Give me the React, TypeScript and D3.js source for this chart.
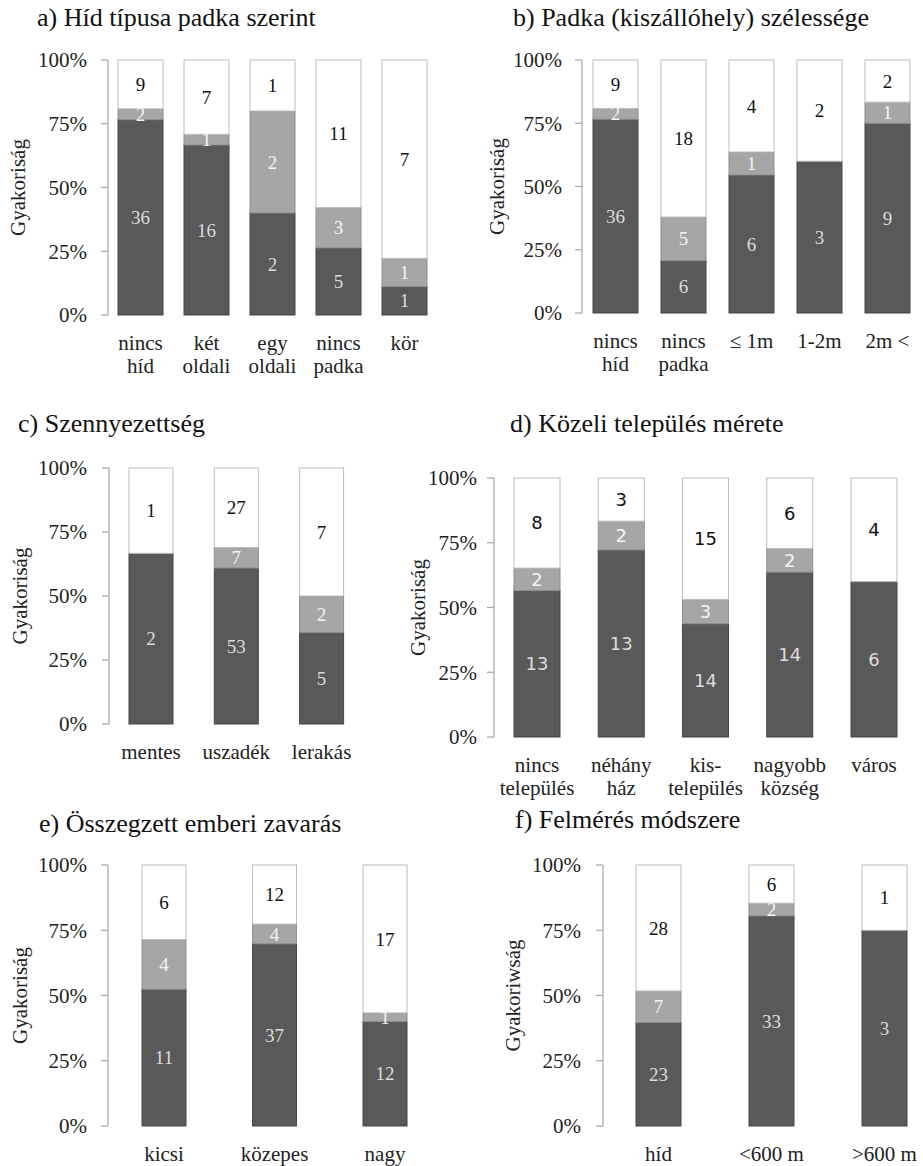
import React, { useEffect, useRef } from "react";
import * as d3 from "d3";

// ---- data ----
const catsA = [["nincs", "híd"], ["két", "oldali"], ["egy", "oldali"], ["nincs", "padka"], ["kör"]];
const darkA = [36, 16, 2, 5, 1];
const grayA = [2, 1, 2, 3, 1];
const whiteA = [9, 7, 1, 11, 7];

const catsB = [["nincs", "híd"], ["nincs", "padka"], ["≤ 1m"], ["1-2m"], ["2m <"]];
const darkB = [36, 6, 6, 3, 9];
const grayB = [2, 5, 1, 0, 1];
const whiteB = [9, 18, 4, 2, 2];

const catsC = [["mentes"], ["uszadék"], ["lerakás"]];
const darkC = [2, 53, 5];
const grayC = [0, 7, 2];
const whiteC = [1, 27, 7];

const catsD = [["nincs", "település"], ["néhány", "ház"], ["kis-", "település"], ["nagyobb", "község"], ["város"]];
const darkD = [13, 13, 14, 14, 6];
const grayD = [2, 2, 3, 2, 0];
const whiteD = [8, 3, 15, 6, 4];

const catsE = [["kicsi"], ["közepes"], ["nagy"]];
const darkE = [11, 37, 12];
const grayE = [4, 4, 1];
const whiteE = [6, 12, 17];

const catsF = [["híd"], ["<600 m"], [">600 m"]];
const darkF = [23, 33, 3];
const grayF = [7, 2, 0];
const whiteF = [28, 6, 1];

const yTicks = [0, 0.25, 0.5, 0.75, 1];
const yTickLabels = ["0%", "25%", "50%", "75%", "100%"];

const SERIF = "Liberation Serif";
const SANS = "DejaVu Sans";

const segFill = ["#595959", "#a6a6a6", "#ffffff"];
const segStroke = ["#454545", "#8e8e8e", "#bdbdbd"];
const segText = ["#dcdcdc", "#f4f4f4", "#111111"];

type PanelCfg = {
  title: string;
  yLabel: string;
  cats: string[][];
  dark: number[];
  gray: number[];
  white: number[];
  axisX: number;
  yTop: number;
  yBot: number;
  firstCenter: number;
  step: number;
  barW: number;
  titleX: number;
  titleY: number;
  yLabelX: number;
  tickGap: number;
  numSans?: boolean;
  numSize: number;
};

const panels: PanelCfg[] = [
  { title: "a) Híd típusa padka szerint", yLabel: "Gyakoriság", cats: catsA, dark: darkA, gray: grayA, white: whiteA,
    axisX: 108, yTop: 60, yBot: 315, firstCenter: 140.5, step: 66, barW: 45, titleX: 37, titleY: 26, yLabelX: 18, tickGap: 21, numSize: 19 },
  { title: "b) Padka (kiszállóhely) szélessége", yLabel: "Gyakoriság", cats: catsB, dark: darkB, gray: grayB, white: whiteB,
    axisX: 582, yTop: 60, yBot: 313, firstCenter: 615.5, step: 68, barW: 45, titleX: 513, titleY: 26, yLabelX: 497, tickGap: 20, numSize: 19 },
  { title: "c) Szennyezettség", yLabel: "Gyakoriság", cats: catsC, dark: darkC, gray: grayC, white: whiteC,
    axisX: 109, yTop: 468, yBot: 724, firstCenter: 151, step: 85.3, barW: 44, titleX: 18, titleY: 432, yLabelX: 20, tickGap: 22, numSize: 19 },
  { title: "d) Közeli település mérete", yLabel: "Gyakoriság", cats: catsD, dark: darkD, gray: grayD, white: whiteD,
    axisX: 494, yTop: 478, yBot: 737, firstCenter: 537, step: 84.25, barW: 46, titleX: 510, titleY: 432, yLabelX: 418, tickGap: 17, numSans: true, numSize: 18 },
  { title: "e) Összegzett emberi zavarás", yLabel: "Gyakoriság", cats: catsE, dark: darkE, gray: grayE, white: whiteE,
    axisX: 108, yTop: 865, yBot: 1126, firstCenter: 164, step: 110.5, barW: 44, titleX: 39, titleY: 832, yLabelX: 20, tickGap: 21, numSize: 19 },
  { title: "f) Felmérés módszere", yLabel: "Gyakoriwság", cats: catsF, dark: darkF, gray: grayF, white: whiteF,
    axisX: 603, yTop: 865, yBot: 1126, firstCenter: 658.5, step: 113, barW: 45, titleX: 515, titleY: 828, yLabelX: 513, tickGap: 22, numSize: 19 },
];

function drawPanel(root: d3.Selection<SVGGElement, unknown, null, undefined>, p: PanelCfg) {
  const n = p.cats.length;
  const keys = ["dark", "gray", "white"];
  const rows = p.cats.map((c, i) => ({ key: i, dark: p.dark[i], gray: p.gray[i], white: p.white[i] }));
  const series = d3.stack<any>().keys(keys).offset(d3.stackOffsetExpand)(rows);
  const r0 = p.firstCenter - p.step / 2;
  const pi = 1 - p.barW / p.step;
  const x = d3.scaleBand<number>().domain(d3.range(n)).range([r0, r0 + n * p.step]).paddingInner(pi).paddingOuter(pi / 2);
  const y = d3.scaleLinear().domain([0, 1]).range([p.yBot, p.yTop]);
  const g = root.append("g");

  g.append("text").attr("x", p.titleX).attr("y", p.titleY).attr("font-family", SERIF).attr("font-size", 26).attr("fill", "#111").text(p.title);

  g.append("text")
    .attr("transform", `translate(${p.yLabelX},${(p.yTop + p.yBot) / 2}) rotate(-90)`)
    .attr("text-anchor", "middle").attr("dy", "0.35em")
    .attr("font-family", SERIF).attr("font-size", 21).attr("fill", "#222").text(p.yLabel);

  g.append("line").attr("x1", p.axisX).attr("x2", p.axisX).attr("y1", y(1)).attr("y2", y(0)).attr("stroke", "#a6a6a6").attr("stroke-width", 1.2);
  yTicks.forEach((t, i) => {
    g.append("line").attr("x1", p.axisX - 7).attr("x2", p.axisX).attr("y1", y(t)).attr("y2", y(t)).attr("stroke", "#a6a6a6").attr("stroke-width", 1.2);
    g.append("text").attr("x", p.axisX - p.tickGap).attr("y", y(t)).attr("dy", "0.35em").attr("text-anchor", "end")
      .attr("font-family", SERIF).attr("font-size", 21).attr("fill", "#222").text(yTickLabels[i]);
  });

  series.forEach((s, si) => {
    s.forEach((d: any, i: number) => {
      const v = (rows[i] as any)[keys[si]];
      if (!v) return;
      const yt = y(d[1]);
      const yb = y(d[0]);
      g.append("rect").attr("x", x(i) as number).attr("y", yt).attr("width", x.bandwidth()).attr("height", yb - yt)
        .attr("fill", segFill[si]).attr("stroke", segStroke[si]).attr("stroke-width", 1);
    });
  });
  series.forEach((s, si) => {
    s.forEach((d: any, i: number) => {
      const v = (rows[i] as any)[keys[si]];
      if (!v) return;
      const yc = (y(d[1]) + y(d[0])) / 2;
      g.append("text").attr("x", (x(i) as number) + x.bandwidth() / 2).attr("y", yc).attr("dy", "0.35em").attr("text-anchor", "middle")
        .attr("font-family", p.numSans ? SANS : SERIF).attr("font-size", p.numSize).attr("fill", segText[si]).text(String(v));
    });
  });

  const xlabY = p.yBot + 35;
  p.cats.forEach((c, i) => {
    const cx = (x(i) as number) + x.bandwidth() / 2;
    const t = g.append("text").attr("text-anchor", "middle").attr("font-family", SERIF).attr("font-size", 21).attr("fill", "#222");
    c.forEach((line, li) => {
      t.append("tspan").attr("x", cx).attr("y", xlabY + li * 23).text(line);
    });
  });
}

export default function App() {
  const ref = useRef<SVGSVGElement | null>(null);
  useEffect(() => {
    if (!ref.current) return;
    const svg = d3.select(ref.current);
    svg.selectAll("*").remove();
    svg.append("rect").attr("width", 923).attr("height", 1166).attr("fill", "#fff");
    const root = svg.append("g") as any;
    panels.forEach((p) => drawPanel(root, p));
  }, []);
  return <svg ref={ref} width={923} height={1166} style={{ position: "absolute", left: 0, top: 0, background: "#fff" }} />;
}
